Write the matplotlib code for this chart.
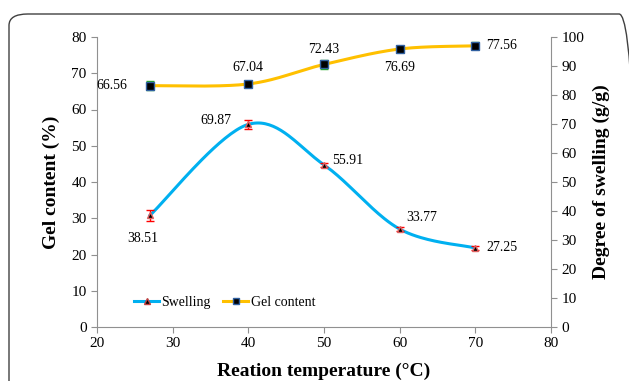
import numpy as np
import matplotlib
matplotlib.use("Agg")
import matplotlib.pyplot as plt
from matplotlib.patches import FancyBboxPatch
from matplotlib.lines import Line2D

temperature = [27, 40, 50, 60, 70]
swelling = [38.51, 69.87, 55.91, 33.77, 27.25]
swelling_err = [1.8, 1.5, 0.8, 0.8, 0.8]
gel_content = [66.56, 67.04, 72.43, 76.69, 77.56]
gel_err = [1.2, 0.6, 1.2, 0.5, 1.0]
swelling_labels = ["38.51", "69.87", "55.91", "33.77", "27.25"]
gel_labels = ["66.56", "67.04", "72.43", "76.69", "77.56"]

plt.rcParams['font.family'] = ['Liberation Serif', 'DejaVu Serif']

def smooth(x, y, n=40):
    # Excel-like Catmull-Rom (Bezier) smoothing through the data points
    x = np.asarray(x, float); y = np.asarray(y, float)
    px = np.concatenate([[x[0]], x, [x[-1]]])
    py = np.concatenate([[y[0]], y, [y[-1]]])
    xs, ys = [], []
    for i in range(1, len(px) - 2):
        p0 = np.array([px[i], py[i]]); p3 = np.array([px[i+1], py[i+1]])
        c1 = p0 + (np.array([px[i+1], py[i+1]]) - np.array([px[i-1], py[i-1]])) / 6
        c2 = p3 - (np.array([px[i+2], py[i+2]]) - np.array([px[i], py[i]])) / 6
        t = np.linspace(0, 1, n)[:, None]
        b = (1-t)**3*p0 + 3*(1-t)**2*t*c1 + 3*(1-t)*t**2*c2 + t**3*p3
        xs.append(b[:, 0]); ys.append(b[:, 1])
    return np.concatenate(xs), np.concatenate(ys)

fig = plt.figure(figsize=(6.29, 3.81), dpi=100)
ax = fig.add_axes([97/629, 1-327/381, (551-97)/629, (327-37)/381])
ax2 = ax.twinx()

border = FancyBboxPatch((9/629, -0.2), 1.0, 1-14/381+0.2,
                        boxstyle="round,pad=0,rounding_size=0.03",
                        transform=fig.transFigure, fill=False,
                        edgecolor='#404040', linewidth=1.0, clip_on=False)
fig.patches.append(border)

blue = '#00B0F0'
gold = '#FFC000'

gx, gy = smooth(temperature, gel_content)
ax.plot(gx, gy, color=gold, lw=2.2, zorder=2)
ax.errorbar(temperature, gel_content, yerr=gel_err, fmt='none', ecolor='#22AA22',
            elinewidth=1, capsize=3, zorder=3)
ax.plot(temperature, gel_content, 's', color='black', mec='#3060A0', mew=1,
        ms=6, zorder=4)

sx, sy = smooth(temperature, swelling)
ax2.plot(sx, sy, color=blue, lw=2.2, zorder=2)
ax2.errorbar(temperature, swelling, yerr=swelling_err, fmt='none', ecolor='#FF0000',
             elinewidth=1, capsize=3, zorder=3)
ax2.plot(temperature, swelling, '^', color='black', mec='#E06060', mew=1,
         ms=5, zorder=4)

h1 = Line2D([], [], color=blue, lw=2.2, marker='^', mfc='black', mec='#C04040', ms=5)
h2 = Line2D([], [], color=gold, lw=2.2, marker='s', mfc='black', mec='#3060A0', ms=5)
ax2.legend([h1, h2], ['Swelling', 'Gel content'], loc='lower left',
           bbox_to_anchor=(0.055, 0.02), ncol=2, frameon=False, fontsize=10,
           handlelength=1.8, handletextpad=0.15, columnspacing=0.9)

ax.set_xlim(20, 80)
ax.set_ylim(0, 80)
ax2.set_ylim(0, 100)
ax.set_xticks(range(20, 81, 10))
ax.set_yticks(range(0, 81, 10))
ax2.set_yticks(range(0, 101, 10))

gray = '#909090'
for a in (ax, ax2):
    a.spines['top'].set_visible(False)
    for s in ('left', 'right', 'bottom'):
        a.spines[s].set_color(gray)
    a.tick_params(colors=gray, labelcolor='black', labelsize=11, length=4, direction='out')
ax.spines['right'].set_visible(False)
ax2.spines['left'].set_visible(False)
ax2.spines['bottom'].set_visible(False)

ax.set_xlabel('Reation temperature (°C)', fontsize=14, fontweight='bold', labelpad=9)
ax.set_ylabel('Gel content (%)', fontsize=14, fontweight='bold', labelpad=8)
ax2.set_ylabel('Degree of swelling (g/g)', fontsize=14, fontweight='bold', labelpad=6)

goff = [(-16, 0, 'right', 'center'), (0, 12, 'center', 'center'), (0, 11, 'center', 'center'),
        (0, -13, 'center', 'center'), (8, 0, 'left', 'center')]
for x, y, t, (dx, dy, ha, va) in zip(temperature, gel_content, gel_labels, goff):
    ax.annotate(t, (x, y), xytext=(dx, dy), textcoords='offset points', ha=ha, va=va, fontsize=10)

soff = [(-5, -12, 'center', 'top'), (-12, 3, 'right', 'center'), (6, 3, 'left', 'center'),
        (5, 8, 'left', 'center'), (8, 0, 'left', 'center')]
for x, y, t, (dx, dy, ha, va) in zip(temperature, swelling, swelling_labels, soff):
    ax2.annotate(t, (x, y), xytext=(dx, dy), textcoords='offset points', ha=ha, va=va, fontsize=10)

fig.savefig('out.png', dpi=100)
